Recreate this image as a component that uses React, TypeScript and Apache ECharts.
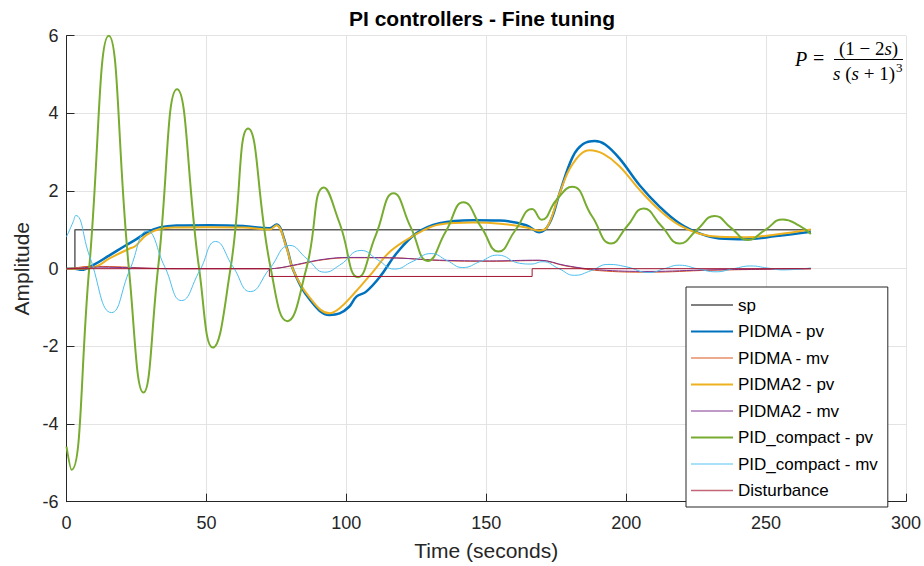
import React, { useEffect, useRef } from "react";
import * as echarts from "echarts";

// ---- data ----
const T_SP = [0, 3, 3, 266];
const Y_SP = [0, 0, 1, 1];

const T_PIDMA_PV = [0, 3, 5.4, 9.5, 15.5, 21.4, 25, 28.6, 33.3, 39.3, 51.2, 63.1, 72.6, 75, 78.6, 81, 87, 94, 97.6, 101, 103.6, 107.1, 112, 117.9, 125, 133.3, 145.3, 154.8, 164.3, 169, 172.6, 176.2, 180.9, 184.6, 188.8, 192.5, 197.6, 204.8, 211.9, 219, 226.2, 233.3, 242.9, 253.6, 266];
const Y_PIDMA_PV = [0, 0, -0.03, 0.09, 0.35, 0.61, 0.76, 0.93, 1.06, 1.11, 1.12, 1.1, 1.04, 1.14, 0.57, -0.03, -0.8, -1.19, -1.15, -0.98, -0.72, -0.59, -0.21, 0.39, 0.91, 1.17, 1.25, 1.24, 1.12, 0.94, 1.17, 1.94, 2.88, 3.21, 3.29, 3.2, 2.84, 2.15, 1.6, 1.17, 0.91, 0.78, 0.76, 0.84, 0.95];

const T_PIDMA_MV = [0, 3, 8, 18, 30, 40, 72.5, 76, 81, 91.7, 101, 115.5, 133.3, 151.2, 169, 178.5, 190.4, 208.2, 230, 266];
const Y_PIDMA_MV = [0, 0.02, 0.06, 0.05, 0.01, 0, 0, 0.02, 0.08, 0.23, 0.28, 0.28, 0.21, 0.19, 0.21, 0.07, -0.05, -0.09, -0.04, 0];

const T_PIDMA2_PV = [0, 3, 9.5, 15.5, 22.6, 24.4, 28.6, 33.3, 39.3, 51.2, 63.1, 72.6, 75, 78.6, 81, 87, 94, 97.6, 103, 109.5, 115, 121.4, 127, 133.3, 145.3, 155, 164.3, 169, 172, 176, 180.9, 187, 192, 197.6, 204.8, 211.9, 219, 226.2, 233.3, 242.9, 253.6, 266];
const Y_PIDMA2_PV = [0, 0, 0.03, 0.27, 0.52, 0.57, 0.87, 1.02, 1.06, 1.07, 1.06, 1.01, 1.12, 0.55, -0.03, -0.75, -1.15, -1.02, -0.62, -0.08, 0.4, 0.74, 0.97, 1.14, 1.19, 1.16, 1.06, 0.98, 1.1, 1.9, 2.7, 3.05, 2.95, 2.64, 2.03, 1.51, 1.12, 0.9, 0.82, 0.81, 0.88, 1.01];

const T_PIDMA2_MV = [0, 3, 10, 20, 30, 40, 72.5, 76, 81, 91.7, 101, 115.5, 133.3, 151.2, 169, 178.5, 190.4, 208.2, 230, 266];
const Y_PIDMA2_MV = [0, 0.01, 0.04, 0.03, 0.01, 0, 0, 0.02, 0.09, 0.24, 0.29, 0.28, 0.22, 0.2, 0.22, 0.08, -0.03, -0.07, -0.03, 0];

const T_PIDC_PV = [0, 1.8, 8.1, 15.1, 22.3, 27.5, 32.7, 39.5, 47.4, 52.3, 58.6, 64.9, 73, 78.9, 85.7, 92, 97.6, 104.2, 110.5, 116.9, 123, 129.1, 135.5, 141.9, 148.2, 154.4, 160.4, 166.4, 169.8, 175.1, 180.7, 187.8, 194.6, 200.4, 206.2, 212.6, 219.1, 225.3, 231.6, 237.5, 243.5, 249.7, 256, 262, 266];
const Y_PIDC_PV = [-4.58, -5.18, 0, 6.0, 0, -3.19, 0, 4.62, 0, -2.03, 0, 3.61, 0, -1.35, 0, 2.09, 1.17, -0.22, 0.86, 1.94, 1.07, 0.2, 0.95, 1.71, 1.07, 0.44, 0.99, 1.54, 1.26, 1.77, 2.11, 1.35, 0.65, 1.1, 1.55, 1.1, 0.65, 1.0, 1.36, 1.05, 0.74, 1.0, 1.27, 1.1, 0.89];

const T_PIDC_MV = [0, 2.4, 3.3, 8.3, 16.1, 22.6, 28.8, 35.1, 41.1, 47.6, 53.3, 59.5, 65.7, 72.6, 79.8, 86, 92.3, 97.6, 105.3, 111.2, 117.2, 123.8, 130.3, 136, 141.6, 148, 154.1, 161.9, 166, 170.2, 176, 181.5, 187.5, 193.5, 200, 208.3, 213.6, 219, 225.5, 232.1, 238.3, 244.6, 250.3, 256, 266];
const Y_PIDC_MV = [0.82, 1.21, 1.37, 0.31, -1.13, -0.03, 0.97, 0.05, -0.82, -0.05, 0.7, 0.05, -0.59, 0, 0.6, 0.25, -0.09, 0.09, 0.47, 0.23, -0.01, 0.19, 0.39, 0.21, 0.03, 0.19, 0.35, 0.14, 0.12, 0.18, 0.0, -0.17, -0.05, 0.11, 0.05, -0.1, 0, 0.09, 0, -0.08, 0, 0.07, 0.02, -0.03, 0.02];

const T_DIST = [0, 72.5, 72.5, 166.4, 166.4, 266];
const Y_DIST = [0, 0, -0.2, -0.2, 0, 0];

const X_TICKS = [0, 50, 100, 150, 200, 250, 300];
const Y_TICKS = [-6, -4, -2, 0, 2, 4, 6];

const zip = (t: number[], y: number[]) => t.map((v, i) => [v, y[i]]);

const FONT = "'Liberation Sans', Arial, Helvetica, sans-serif";
const SERIF = "'Liberation Serif', 'DejaVu Serif', serif";
const AX = "#262626";

export default function App() {
  const ref = useRef<HTMLDivElement>(null);
  useEffect(() => {
    if (!ref.current) return;
    const chart = echarts.init(ref.current, null, { renderer: "svg" });
    const mk = (name: string, t: number[], y: number[], color: string, width: number, smooth: boolean | number, z: number) => ({
      name,
      type: "line",
      data: zip(t, y),
      showSymbol: false,
      symbol: "none",
      smooth,
      z,
      lineStyle: { color, width },
      itemStyle: { color },
      emphasis: { disabled: true },
    });
    const hide = { opacity: 0 };
    chart.setOption({
      animation: false,
      grid: { left: 66.5, right: 18, top: 35.7, bottom: 64.3, containLabel: false },
      xAxis: {
        type: "value",
        min: X_TICKS[0],
        max: X_TICKS[X_TICKS.length - 1],
        interval: 50,
        name: "Time (seconds)",
        nameLocation: "middle",
        nameGap: 38,
        nameTextStyle: { fontSize: 21, color: AX, fontFamily: FONT },
        axisLine: { show: true, onZero: false, lineStyle: { color: AX, width: 1 } },
        axisTick: { show: true, inside: true, length: 8, lineStyle: { color: AX } },
        axisLabel: { fontSize: 18, color: AX, fontFamily: FONT, margin: 12 },
        splitLine: { show: true, lineStyle: { color: "#e3e3e3", width: 1 } },
      },
      yAxis: {
        type: "value",
        min: Y_TICKS[0],
        max: Y_TICKS[Y_TICKS.length - 1],
        interval: 2,
        name: "Amplitude",
        nameLocation: "middle",
        nameGap: 31,
        nameTextStyle: { fontSize: 21, color: AX, fontFamily: FONT },
        axisLine: { show: true, onZero: false, lineStyle: { color: AX, width: 1 } },
        axisTick: { show: true, inside: true, length: 8, lineStyle: { color: AX } },
        axisLabel: { fontSize: 18, color: AX, fontFamily: FONT, margin: 8 },
        splitLine: { show: true, lineStyle: { color: "#e3e3e3", width: 1 } },
      },
      legend: {
        orient: "vertical",
        left: 686,
        top: 287,
        itemWidth: 42,
        itemHeight: 14,
        itemGap: 9.5,
        padding: [9.5, 10, 8, 4],
        backgroundColor: "#fff",
        borderColor: AX,
        borderWidth: 1,
        itemStyle: hide,
        textStyle: { fontSize: 17, color: "#000", fontFamily: FONT },
        data: [
          { name: "sp", itemStyle: hide, lineStyle: { color: "#000", width: 1 } },
          { name: "PIDMA - pv", itemStyle: hide, lineStyle: { color: "#0072BD", width: 2 } },
          { name: "PIDMA - mv", itemStyle: hide, lineStyle: { color: "#D95319", width: 1.5, opacity: 0.65 } },
          { name: "PIDMA2 - pv", itemStyle: hide, lineStyle: { color: "#EDB120", width: 2 } },
          { name: "PIDMA2 - mv", itemStyle: hide, lineStyle: { color: "#7E2F8E", width: 1.5, opacity: 0.65 } },
          { name: "PID_compact - pv", itemStyle: hide, lineStyle: { color: "#77AC30", width: 2 } },
          { name: "PID_compact - mv", itemStyle: hide, lineStyle: { color: "#4DBEEE", width: 1.5, opacity: 0.65 } },
          { name: "Disturbance", itemStyle: hide, lineStyle: { color: "#A2142F", width: 1.5, opacity: 0.65 } },
        ],
      },
      series: [
        mk("sp", T_SP, Y_SP, "#5e5e5e", 1.5, false, 2),
        mk("PIDMA - pv", T_PIDMA_PV, Y_PIDMA_PV, "#0072BD", 2.5, 0.4, 3),
        mk("PIDMA - mv", T_PIDMA_MV, Y_PIDMA_MV, "#D95319", 1, 0.4, 4),
        mk("PIDMA2 - pv", T_PIDMA2_PV, Y_PIDMA2_PV, "#EDB120", 2, 0.4, 5),
        mk("PIDMA2 - mv", T_PIDMA2_MV, Y_PIDMA2_MV, "#7E2F8E", 1, 0.4, 6),
        mk("PID_compact - pv", T_PIDC_PV, Y_PIDC_PV, "#77AC30", 2, 0.5, 7),
        mk("PID_compact - mv", T_PIDC_MV, Y_PIDC_MV, "#4DBEEE", 1, 0.5, 8),
        mk("Disturbance", T_DIST, Y_DIST, "#A2142F", 1, false, 9),
      ],
      graphic: [
        {
          type: "text",
          x: 482,
          y: 18,
          style: {
            text: "PI controllers - Fine tuning",
            fontSize: 21,
            fontWeight: "bold",
            fontFamily: FONT,
            fill: "#000",
            align: "center",
            verticalAlign: "middle",
          },
        },
        {
          type: "text",
          x: 795,
          y: 59,
          z: 100,
          style: { text: "P", fontSize: 20, fontStyle: "italic", fontFamily: SERIF, fill: "#000", verticalAlign: "middle" },
        },
        {
          type: "text",
          x: 813,
          y: 58,
          z: 100,
          style: { text: "=", fontSize: 20, fontFamily: SERIF, fill: "#000", verticalAlign: "middle" },
        },
        {
          type: "text",
          x: 868.5,
          y: 48,
          z: 100,
          style: {
            text: "(1 − 2{i|s})",
            fontSize: 19,
            fontFamily: SERIF,
            fill: "#000",
            align: "center",
            verticalAlign: "middle",
            rich: { i: { fontStyle: "italic", fontSize: 19, fontFamily: SERIF } },
          },
        },
        {
          type: "line",
          z: 100,
          shape: { x1: 834, y1: 59.5, x2: 903, y2: 59.5 },
          style: { stroke: "#000", lineWidth: 1 },
        },
        {
          type: "text",
          x: 864,
          y: 73,
          z: 100,
          style: {
            text: "{i|s} ({i|s} + 1)",
            fontSize: 19,
            fontFamily: SERIF,
            fill: "#000",
            align: "center",
            verticalAlign: "middle",
            rich: { i: { fontStyle: "italic", fontSize: 19, fontFamily: SERIF } },
          },
        },
        {
          type: "text",
          x: 896,
          y: 67,
          z: 100,
          style: { text: "3", fontSize: 13, fontFamily: SERIF, fill: "#000", verticalAlign: "middle" },
        },
      ],
    });
    return () => chart.dispose();
  }, []);
  return <div ref={ref} style={{ position: "absolute", left: 0, top: 0, width: 924, height: 566, background: "#fff" }} />;
}
